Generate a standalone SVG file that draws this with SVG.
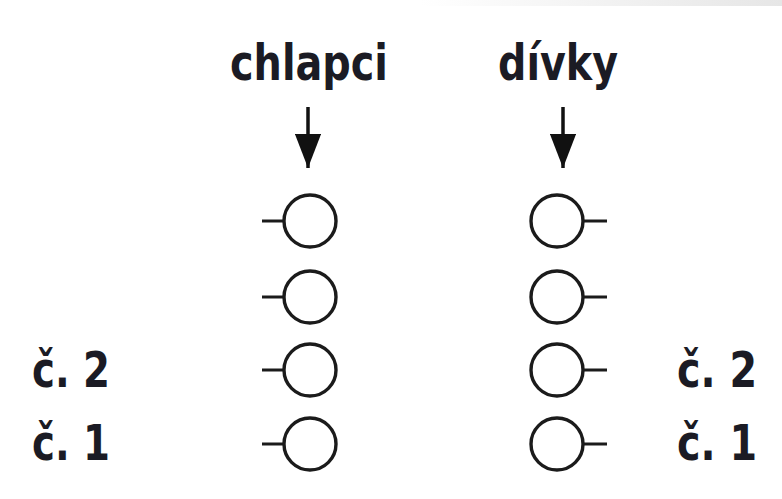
<svg xmlns="http://www.w3.org/2000/svg" width="782" height="499" viewBox="0 0 782 499">
<style>
.t{font-family:"Liberation Sans Narrow","DejaVu Sans Condensed","Liberation Sans",sans-serif;font-weight:bold;fill:#1b1b24;font-size:50px}
.c{fill:none;stroke:#1b1b1b;stroke-width:3.4}
.k{stroke:#1b1b1b;stroke-width:3}
.a{stroke:#111;stroke-width:3.5}
</style>
<defs>
<linearGradient id="g" x1="0" x2="1" y1="0" y2="0">
<stop offset="0" stop-color="#ffffff"/>
<stop offset="1" stop-color="#e6e6e6"/>
</linearGradient>
<marker id="ah" viewBox="0 0 13 10" refX="13" refY="5" markerWidth="9.8" markerHeight="7.5" markerUnits="strokeWidth" orient="auto">
<path d="M0,0 L13,5 L0,10 Z" fill="#111"/>
</marker>
</defs>
<rect width="782" height="499" fill="#fff"/>
<rect x="420" y="0" width="362" height="6" fill="url(#g)"/>
<g id="title-chlapci"><text class="t" x="230" y="80" textLength="158" lengthAdjust="spacingAndGlyphs">chlapci</text></g>
<g id="title-divky"><text class="t" x="498" y="80" textLength="120" lengthAdjust="spacingAndGlyphs">dívky</text></g>
<g id="connectors">
<line class="a" x1="308" y1="107" x2="308" y2="168" marker-end="url(#ah)"/>
<line class="a" x1="563" y1="107" x2="563" y2="168" marker-end="url(#ah)"/>
</g>
<g id="boy1"><line class="k" x1="262" y1="221" x2="283" y2="221"/><circle class="c" cx="310" cy="221" r="26"/></g>
<g id="boy2"><line class="k" x1="262" y1="297" x2="283" y2="297"/><circle class="c" cx="310" cy="297" r="26"/></g>
<g id="boy3"><line class="k" x1="262" y1="370" x2="283" y2="370"/><circle class="c" cx="310" cy="370" r="26"/></g>
<g id="boy4"><line class="k" x1="262" y1="444" x2="283" y2="444"/><circle class="c" cx="310" cy="444" r="26"/></g>
<g id="girl1"><circle class="c" cx="557" cy="221" r="26"/><line class="k" x1="583" y1="221" x2="607" y2="221"/></g>
<g id="girl2"><circle class="c" cx="557" cy="297" r="26"/><line class="k" x1="583" y1="297" x2="607" y2="297"/></g>
<g id="girl3"><circle class="c" cx="557" cy="370" r="26"/><line class="k" x1="583" y1="370" x2="607" y2="370"/></g>
<g id="girl4"><circle class="c" cx="557" cy="444" r="26"/><line class="k" x1="583" y1="444" x2="607" y2="444"/></g>
<g id="label-left-2"><text class="t" x="32" y="387" textLength="78" lengthAdjust="spacingAndGlyphs">č. 2</text></g>
<g id="label-left-1"><text class="t" x="32" y="460" textLength="78" lengthAdjust="spacingAndGlyphs">č. 1</text></g>
<g id="label-right-2"><text class="t" x="677" y="387" textLength="80" lengthAdjust="spacingAndGlyphs">č. 2</text></g>
<g id="label-right-1"><text class="t" x="677" y="460" textLength="80" lengthAdjust="spacingAndGlyphs">č. 1</text></g>
</svg>
